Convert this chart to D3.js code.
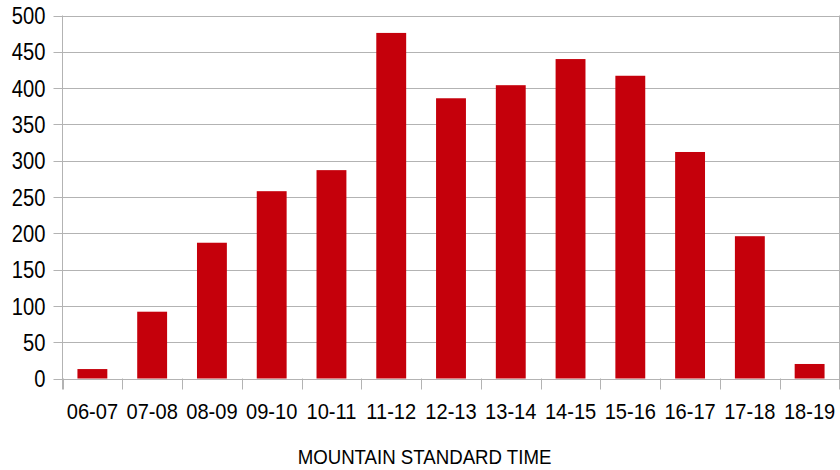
<!DOCTYPE html>
<html>
<head>
<meta charset="utf-8">
<script src="https://cdn.jsdelivr.net/npm/d3@7"></script>
<style>
  html, body { margin: 0; padding: 0; background: #fff; }
  svg { display: block; font-family: "Liberation Sans", Arial, sans-serif; }
</style>
</head>
<body>
<svg id="chart" width="840" height="470"></svg>
<script>
// Hourly counts, Mountain Standard Time
const hours = ["06-07", "07-08", "08-09", "09-10", "10-11", "11-12", "12-13",
               "13-14", "14-15", "15-16", "16-17", "17-18", "18-19"];
const counts = [13, 92, 187, 258, 287, 476, 386, 404, 440, 417, 312, 196, 20];
const yTicks = [0, 50, 100, 150, 200, 250, 300, 350, 400, 450, 500];
const axisTitle = "MOUNTAIN STANDARD TIME";

const svg = d3.select("#chart");
const plotLeft = 62.5, plotRight = 839.5, plotTop = 15.5, plotBottom = 378.5;
const gridColor = "#b3b3b3";
const barColor = "#c5000b";

const x = d3.scaleBand().domain(hours).range([plotLeft, plotRight])
  .paddingInner(0.5).paddingOuter(0.25);
const y = d3.scaleLinear().domain([0, 500]).range([plotBottom, plotTop]);
const step = x.step();

// horizontal gridlines with short ticks left of the axis
svg.append("g").selectAll("line").data(yTicks).join("line")
  .attr("x1", plotLeft - 9).attr("x2", plotRight)
  .attr("y1", d => Math.round(y(d)) + 0.5).attr("y2", d => Math.round(y(d)) + 0.5)
  .attr("stroke", gridColor).attr("stroke-width", 1);

// y tick labels (slightly condensed face)
svg.append("g").selectAll("text").data(yTicks).join("text")
  .attr("transform", d => `translate(45.5,${y(d) + 8.6}) scale(0.84,1)`)
  .attr("text-anchor", "end")
  .attr("font-size", 24).attr("fill", "#000")
  .text(d => d);

// bars
svg.append("g").selectAll("rect").data(counts).join("rect")
  .attr("x", (d, i) => x(hours[i]))
  .attr("width", x.bandwidth())
  .attr("y", d => y(d))
  .attr("height", d => y(0) - y(d))
  .attr("fill", barColor);

// vertical axis line and right border
svg.append("line")
  .attr("x1", plotLeft).attr("x2", plotLeft).attr("y1", plotTop).attr("y2", plotBottom + 11)
  .attr("stroke", gridColor);
svg.append("line")
  .attr("x1", plotRight).attr("x2", plotRight).attr("y1", plotTop).attr("y2", plotBottom + 11)
  .attr("stroke", gridColor);

// baseline and category boundary ticks
svg.append("line")
  .attr("x1", plotLeft).attr("x2", plotRight)
  .attr("y1", Math.round(y(0)) + 0.5).attr("y2", Math.round(y(0)) + 0.5)
  .attr("stroke", gridColor);
const bounds = hours.map(h => x(h) - step * 0.25).concat([plotRight]);
svg.append("g").selectAll("line").data(bounds).join("line")
  .attr("x1", d => Math.round(d) + 0.5).attr("x2", d => Math.round(d) + 0.5)
  .attr("y1", plotBottom).attr("y2", plotBottom + 11)
  .attr("stroke", gridColor);

// category labels
svg.append("g").selectAll("text").data(hours).join("text")
  .attr("transform", d => `translate(${x(d) + x.bandwidth() / 2},419.3) scale(0.9,1)`)
  .attr("text-anchor", "middle")
  .attr("font-size", 22.3).attr("fill", "#000")
  .text(d => d);

// axis title
svg.append("text")
  .attr("transform", "translate(424.5,464) scale(0.91,1)")
  .attr("text-anchor", "middle")
  .attr("font-size", 20.5).attr("fill", "#000")
  .text(axisTitle);
</script>
</body>
</html>
